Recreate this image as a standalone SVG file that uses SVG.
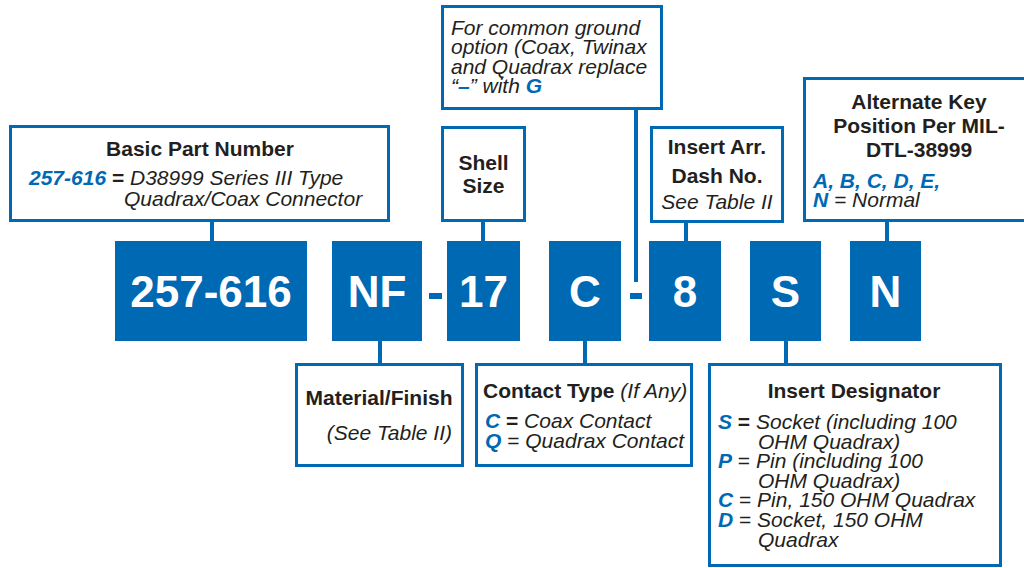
<svg xmlns="http://www.w3.org/2000/svg" width="1024" height="568" viewBox="0 0 1024 568">
<style>
.frame{fill:#fff;stroke:#0069b4;stroke-width:3}
.code{fill:#0069b4}
.codet{fill:#fff;font-family:"Liberation Sans",Arial,sans-serif;font-weight:bold;font-size:44px;text-anchor:middle}
.t{fill:#231f20;font-family:"Liberation Sans",Arial,sans-serif;font-size:21px}
.b{font-weight:bold}
.i{font-style:italic}
.blue{fill:#0069b4;font-weight:bold;font-style:italic}
.c{text-anchor:middle}
.conn line{stroke:#0069b4;stroke-width:4}
</style>
<rect width="1024" height="568" fill="#fff"/>
<g id="connectors" class="conn">
<line x1="212" y1="221" x2="212" y2="242"/>
<line x1="483" y1="221" x2="483" y2="242"/>
<line x1="636" y1="109" x2="636" y2="282"/>
<line x1="686" y1="222" x2="686" y2="242"/>
<line x1="887" y1="221" x2="887" y2="242"/>
<line x1="380" y1="340" x2="380" y2="364"/>
<line x1="585" y1="340" x2="585" y2="364"/>
<line x1="786" y1="340" x2="786" y2="364"/>
<rect x="429" y="293" width="13" height="6" fill="#0069b4"/>
<rect x="630" y="293" width="12" height="6" fill="#0069b4"/>
</g>
<g id="code-257-616"><rect class="code" x="115" y="241" width="192" height="100"/><text class="codet" x="211" y="307">257-616</text></g>
<g id="code-NF"><rect class="code" x="332" y="241" width="90" height="100"/><text class="codet" x="377" y="307">NF</text></g>
<g id="code-17"><rect class="code" x="447" y="241" width="73" height="100"/><text class="codet" x="483.5" y="307">17</text></g>
<g id="code-C"><rect class="code" x="549" y="241" width="72" height="100"/><text class="codet" x="585" y="307">C</text></g>
<g id="code-8"><rect class="code" x="649" y="241" width="72" height="100"/><text class="codet" x="685" y="307">8</text></g>
<g id="code-S"><rect class="code" x="750" y="241" width="71" height="100"/><text class="codet" x="785.5" y="307">S</text></g>
<g id="code-N"><rect class="code" x="850" y="241" width="71" height="100"/><text class="codet" x="885.5" y="307">N</text></g>
<g id="basic-part-number">
<rect class="frame" x="10.5" y="126.5" width="378" height="94"/>
<text class="t b c" x="200" y="156">Basic Part Number</text>
<text class="t i" x="29" y="185"><tspan class="blue">257-616</tspan><tspan class="b" font-style="normal"> = </tspan>D38999 Series III Type</text>
<text class="t i" x="124" y="206">Quadrax/Coax Connector</text>
</g>
<g id="common-ground">
<rect class="frame" x="442.5" y="6.5" width="219" height="102"/>
<text class="t i" x="451" y="35">For common ground</text>
<text class="t i" x="451" y="54">option (Coax, Twinax</text>
<text class="t i" x="451" y="74">and Quadrax replace</text>
<text class="t i" x="451" y="93">“<tspan class="blue">–</tspan>” with <tspan class="blue">G</tspan></text>
</g>
<g id="shell-size">
<rect class="frame" x="442.5" y="127.5" width="82" height="93"/>
<text class="t b c" x="483.5" y="170">Shell</text>
<text class="t b c" x="483.5" y="193">Size</text>
</g>
<g id="insert-arr">
<rect class="frame" x="651.5" y="127.5" width="131" height="94"/>
<text class="t b c" x="717" y="154">Insert Arr.</text>
<text class="t b c" x="717" y="183">Dash No.</text>
<text class="t i c" x="717" y="209">See Table II</text>
</g>
<g id="alternate-key">
<rect class="frame" x="804.5" y="78.5" width="240" height="142"/>
<text class="t b c" x="919" y="109">Alternate Key</text>
<text class="t b c" x="919" y="133">Position Per MIL-</text>
<text class="t b c" x="919" y="157">DTL-38999</text>
<text class="t blue" x="813" y="188">A, B, C, D, E,</text>
<text class="t i" x="813" y="207"><tspan class="blue">N</tspan> = Normal</text>
</g>
<g id="material-finish">
<rect class="frame" x="296.5" y="364.5" width="166" height="101"/>
<text class="t b c" x="379" y="405">Material/Finish</text>
<text class="t i" x="452" y="440" text-anchor="end">(See Table II)</text>
</g>
<g id="contact-type">
<rect class="frame" x="476.5" y="364.5" width="215" height="101"/>
<text class="t" x="483" y="398"><tspan class="b">Contact Type</tspan><tspan class="i"> (If Any)</tspan></text>
<text class="t i" x="485" y="428"><tspan class="blue" font-style="normal">C</tspan><tspan class="b" font-style="normal"> = </tspan>Coax Contact</text>
<text class="t i" x="485" y="448"><tspan class="blue" font-style="normal">Q</tspan><tspan font-style="normal"> = </tspan>Quadrax Contact</text>
</g>
<g id="insert-designator">
<rect class="frame" x="709.5" y="364.5" width="291" height="201"/>
<text class="t b c" x="854" y="398">Insert Designator</text>
<text class="t i" x="718" y="429"><tspan class="blue">S</tspan><tspan class="b" font-style="normal"> = </tspan>Socket (including 100</text>
<text class="t i" x="758" y="449">OHM Quadrax)</text>
<text class="t i" x="718" y="468"><tspan class="blue">P</tspan><tspan font-style="normal"> = </tspan>Pin (including 100</text>
<text class="t i" x="758" y="488">OHM Quadrax)</text>
<text class="t i" x="718" y="507"><tspan class="blue">C</tspan><tspan font-style="normal"> = </tspan>Pin, 150 OHM Quadrax</text>
<text class="t i" x="718" y="527"><tspan class="blue">D</tspan><tspan font-style="normal"> = </tspan>Socket, 150 OHM</text>
<text class="t i" x="758" y="547">Quadrax</text>
</g>
</svg>
